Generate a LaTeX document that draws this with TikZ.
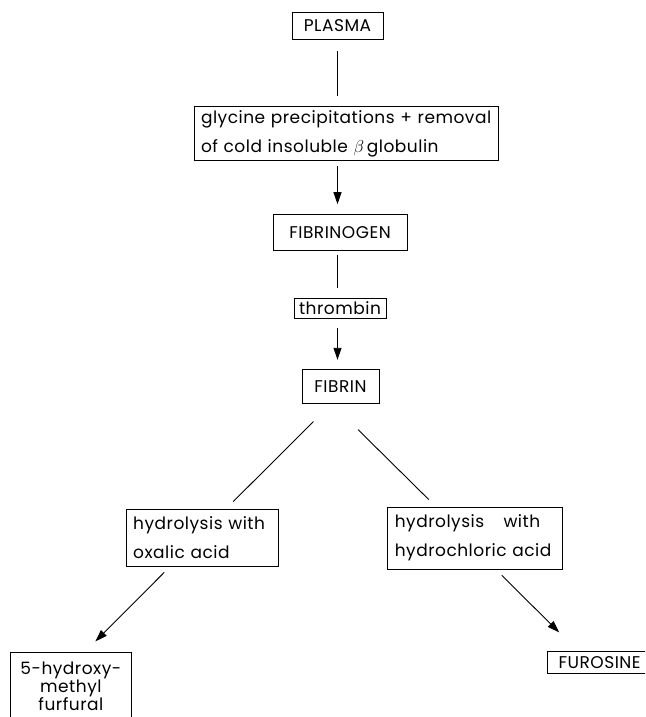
\documentclass[tikz,border=0pt]{standalone}
\usepackage{fontspec}
\setmainfont{Poppins}[LetterSpace=3]
\usetikzlibrary{arrows.meta,positioning}

\begin{document}
\begin{tikzpicture}[x=1pt, y=-1pt, >={Triangle[length=12pt,width=8pt]}, font=\fontsize{17}{29}\selectfont,
  box/.style={draw, line width=0.8pt, inner sep=0pt},
  wide/.style={box, align=left, inner xsep=7pt},
  link/.style={line width=0.9pt}]
  \useasboundingbox (0,0) rectangle (645,717);
  \clip (0,0) rectangle (645,717);
  % nodes
  \node[box, minimum width=91pt, minimum height=27pt] (plasma) at (337.5,25.5) {PLASMA};
  \node[wide, text width=290pt, minimum height=54pt, below=67pt of plasma, xshift=8.5pt] (glycine) {glycine precipitations + removal\\of cold insoluble $\beta$\,globulin};
  \node[box, minimum width=134pt, minimum height=36pt, below=53pt of glycine, xshift=-6pt] (fibrinogen) {FIBRINOGEN};
  \node[box, minimum width=92pt, minimum height=20pt, below=47pt of fibrinogen] (thrombin) {thrombin};
  \node[box, minimum width=77pt, minimum height=34pt, below=50pt of thrombin, xshift=0.5pt] (fibrin) {FIBRIN};
  \node[wide, text width=138pt, minimum height=57pt, below left=105pt and 23pt of fibrin] (oxalic) {hydrolysis with\\oxalic acid};
  \node[wide, text width=161pt, minimum height=62pt, below right=103pt and 8pt of fibrin] (hcl) {hydrolysis\hspace{0.8em} with\\hydrochloric acid};
  \node[box, minimum width=121pt, minimum height=67pt, align=center, font=\fontsize{17}{15}\selectfont, below left=86pt and -6pt of oxalic] (hmf) {5-hydroxy-\\methyl\\furfural};
  \node[box, minimum width=104pt, minimum height=22pt, below right=82pt and -16pt of hcl] (furosine) {FUROSINE};

  % main column
  \draw[link, shorten <=12pt, shorten >=10pt] (plasma) -- (plasma |- glycine.north);
  \draw[link, ->, shorten <=5pt, shorten >=10pt] (plasma |- glycine.south) -- (plasma |- fibrinogen.north);
  \draw[link, shorten <=4pt, shorten >=10pt] (plasma |- fibrinogen.south) -- (plasma |- thrombin.north);
  \draw[link, ->, shorten <=9pt, shorten >=9pt] (plasma |- thrombin.south) -- (plasma |- fibrin.north);

  % branches
  \draw[link] ([xshift=-27pt, yshift=-18pt]fibrin.south) -- ([xshift=31pt, yshift=7pt]oxalic.north);
  \draw[link] ([xshift=17.5pt, yshift=-26pt]fibrin.south) -- ([xshift=-46.5pt, yshift=7pt]hcl.north);
  \draw[link, ->] ([xshift=-38pt, yshift=-6pt]oxalic.south) -- ([xshift=24.5pt, yshift=11pt]hmf.north);
  \draw[link, ->] ([xshift=26.5pt, yshift=-6pt]hcl.south) -- ([xshift=12pt, yshift=19pt]furosine.north west);
\end{tikzpicture}
\end{document}
